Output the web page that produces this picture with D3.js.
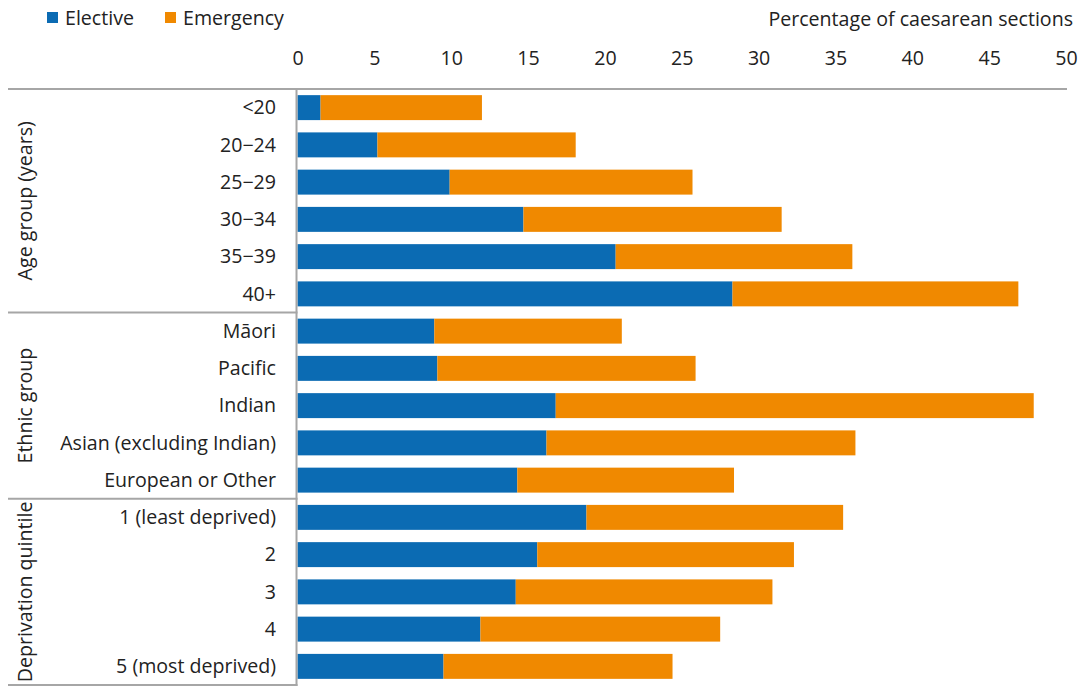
<!DOCTYPE html>
<html>
<head>
<meta charset="utf-8">
<script src="https://cdn.jsdelivr.net/npm/d3@7"></script>
<style>
  body { margin: 0; background: #fff; }
  svg { display: block; font-family: "Open Sans", sans-serif; }
</style>
</head>
<body>
<svg id="chart"></svg>
<script>
// categories (top to bottom), with their group
const categories = ["<20", "20\u221224", "25\u221229", "30\u221234", "35\u221239", "40+",
    "M\u0101ori", "Pacific", "Indian", "Asian (excluding Indian)", "European or Other",
    "1 (least deprived)", "2", "3", "4", "5 (most deprived)"];
const groups = ["Age group (years)", "Ethnic group", "Deprivation quintile"];
const groupSizes = [6, 5, 5];

// percentage of caesarean sections
const elective = [1.5, 5.2, 9.9, 14.7, 20.7, 28.3, 8.9, 9.1, 16.8, 16.2, 14.3, 18.8, 15.6, 14.2, 11.9, 9.5];
const emergency = [10.5, 12.9, 15.8, 16.8, 15.4, 18.6, 12.2, 16.8, 31.1, 20.1, 14.1, 16.7, 16.7, 16.7, 15.6, 14.9];

const seriesNames = ["Elective", "Emergency"];
const colors = ["#0b6bb3", "#f08900"];
const xTicks = [0, 5, 10, 15, 20, 25, 30, 35, 40, 45, 50];

const width = 1085, height = 686;
const margin = { top: 89, right: 19, bottom: 1, left: 297.5 };
const fontSize = 19.6;
const textColor = "#222";

const svg = d3.select("#chart")
    .attr("width", width)
    .attr("height", height);

const x = d3.scaleLinear()
    .domain([0, 50])
    .range([margin.left, width - margin.right]);

const y = d3.scaleBand()
    .domain(categories)
    .range([margin.top, height - margin.bottom])
    .paddingInner(0.33)
    .paddingOuter(0.165);

const rows = categories.map((c, i) => ({ cat: c, values: [elective[i], emergency[i]] }));
const stack = d3.stack().keys([0, 1]).value((d, k) => d.values[k]);
const series = stack(rows);

// bars
svg.append("g")
    .selectAll("g")
    .data(series)
    .join("g")
    .attr("fill", (d, i) => colors[i])
    .selectAll("rect")
    .data(d => d)
    .join("rect")
    .attr("x", d => x(d[0]))
    .attr("y", d => y(d.data.cat))
    .attr("width", d => x(d[1]) - x(d[0]))
    .attr("height", y.bandwidth());

// top axis labels
const xAxis = d3.axisTop(x).tickValues(xTicks).tickSize(0).tickPadding(0);
svg.append("g")
    .attr("transform", "translate(0,65)")
    .call(xAxis)
    .call(g => g.select(".domain").remove())
    .call(g => g.selectAll("text")
        .attr("font-family", "Open Sans, sans-serif")
        .attr("font-size", fontSize)
        .attr("fill", textColor)
        .attr("dy", 0));

svg.append("text")
    .attr("x", 1073)
    .attr("y", 26)
    .attr("text-anchor", "end")
    .attr("font-size", fontSize)
    .attr("fill", textColor)
    .text("Percentage of caesarean sections");

// category labels
svg.append("g")
    .selectAll("text")
    .data(categories)
    .join("text")
    .attr("x", 276)
    .attr("y", d => y(d) + y.bandwidth() / 2)
    .attr("dy", "0.35em")
    .attr("text-anchor", "end")
    .attr("font-size", fontSize)
    .attr("fill", textColor)
    .text(d => d);

// lines: top, separators, bottom, vertical axis
const lineColor = "#a6a6a6";
svg.append("line")
    .attr("x1", 8).attr("x2", x(50) + 1)
    .attr("y1", margin.top).attr("y2", margin.top)
    .attr("stroke", lineColor).attr("stroke-width", 2);

const step = y.step();
let start = 0;
const groupSpans = groupSizes.map(n => {
    const s = { y0: margin.top + start * step, y1: margin.top + (start + n) * step };
    start += n;
    return s;
});

svg.append("g")
    .selectAll("line")
    .data(groupSpans)
    .join("line")
    .attr("x1", 8).attr("x2", margin.left)
    .attr("y1", d => d.y1).attr("y2", d => d.y1)
    .attr("stroke", lineColor).attr("stroke-width", 2);

svg.append("line")
    .attr("x1", margin.left - 1).attr("x2", margin.left - 1)
    .attr("y1", margin.top).attr("y2", height)
    .attr("stroke", lineColor).attr("stroke-width", 2);

// rotated group labels
svg.append("g")
    .selectAll("text")
    .data(groupSpans)
    .join("text")
    .attr("transform", d => `translate(25,${(d.y0 + d.y1) / 2}) rotate(-90)`)
    .attr("dy", "0.35em")
    .attr("text-anchor", "middle")
    .attr("font-size", fontSize)
    .attr("fill", textColor)
    .text((d, i) => groups[i]);

// legend
const legend = svg.append("g")
    .selectAll("g")
    .data(seriesNames)
    .join("g")
    .attr("transform", (d, i) => `translate(${[47, 165][i]},0)`);
legend.append("rect")
    .attr("y", 12).attr("width", 11).attr("height", 11)
    .attr("fill", (d, i) => colors[i]);
legend.append("text")
    .attr("x", 18).attr("y", 25)
    .attr("font-size", fontSize)
    .attr("fill", textColor)
    .text(d => d);
</script>
</body>
</html>
